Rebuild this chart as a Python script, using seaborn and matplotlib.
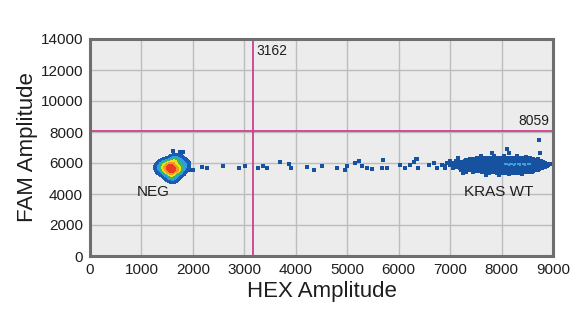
import numpy as np
import pandas as pd
import matplotlib
matplotlib.use("Agg")
import matplotlib.pyplot as plt
from matplotlib.colors import ListedColormap
import seaborn as sns

# ---------------- data ----------------
x_ticks = [0, 1000, 2000, 3000, 4000, 5000, 6000, 7000, 8000, 9000]
y_ticks = [0, 2000, 4000, 6000, 8000, 10000, 12000, 14000]
hex_threshold = 3162
fam_threshold = 8059

# NEG cluster core (density blob)
neg_x = [1590, 1530, 1650, 1570, 1610, 1480, 1710, 1550, 1630, 1430, 1760, 1510, 1680, 1590, 1380,
         1810, 1530, 1660, 1460, 1740, 1600, 1340, 1860, 1620, 1500, 1700, 1570, 1410, 1790, 1640]
neg_y = [5610, 5700, 5550, 5500, 5750, 5600, 5650, 5850, 5400, 5700, 5550, 5400, 5850, 6000, 5500,
         5700, 6050, 6150, 5950, 5300, 5200, 5750, 5900, 6300, 5250, 6250, 5050, 6000, 6100, 4950]

# NEG edge / outlier droplets
neg_out_x = [1620, 1740, 1810, 1870, 1920, 1330, 1380, 1760, 1830, 1310]
neg_out_y = [6770, 6690, 6690, 5700, 5560, 5350, 6150, 6450, 5300, 5600]

# droplets scattered between the clusters
mid_x = [2000, 2170, 2270, 2580, 2890, 3020, 3270, 3360, 3450, 3700, 3860, 3900, 4210, 4360,
         4500, 4800, 4960, 4990, 5160, 5220, 5290, 5380, 5480, 5670, 5700, 5780, 6030, 6130,
         6230, 6290, 6340, 6370, 6580, 6680, 6740, 6840, 6910, 6940]
mid_y = [5550, 5760, 5660, 5830, 5700, 5830, 5700, 5830, 5700, 6080, 5910, 5700, 5760, 5550,
         5830, 5700, 5550, 5830, 5980, 6130, 5830, 5700, 5610, 5660, 6190, 5660, 5870, 5700,
         5870, 6040, 6260, 5700, 5870, 5980, 5700, 5870, 5660, 5980]

# KRAS WT cluster droplets
kras_x = [7600, 7850, 8050, 8300, 8480,
          7380, 7520, 7700, 7820, 7960, 8110, 8250, 8400, 8560, 8700,
          7120, 7300, 7450, 7560, 7660, 7760, 7860, 7960, 8060, 8160, 8260, 8360, 8460, 8560, 8660, 8760,
          6980, 7080, 7200, 7310, 7410, 7500, 7590, 7680, 7770, 7860, 7950, 8040, 8130, 8220, 8310,
          8400, 8490, 8580, 8670, 8760, 8850,
          7000, 7150, 7250, 7350, 7440, 7530, 7620, 7710, 7800, 7890, 7980, 8070, 8160, 8250, 8340,
          8430, 8520, 8610, 8700, 8790, 8880,
          7060, 7180, 7300, 7400, 7490, 7580, 7670, 7760, 7850, 7940, 8030, 8120, 8210, 8300, 8390,
          8480, 8570, 8660, 8750, 8840,
          7220, 7380, 7480, 7580, 7680, 7780, 7870, 7960, 8050, 8140, 8230, 8320, 8410, 8500, 8600, 8700,
          7450, 7620, 7750, 7880, 8000, 8120, 8240, 8360, 8480, 8600,
          7700, 7950, 8150, 8400]
kras_y = [6430, 6470, 6420, 6460, 6410,
          6290, 6320, 6280, 6330, 6300, 6270, 6320, 6290, 6310, 6260,
          6130, 6170, 6140, 6160, 6150, 6130, 6170, 6150, 6140, 6160, 6150, 6130, 6170, 6150, 6140, 6120,
          6000, 5980, 6020, 6000, 5990, 6010, 6000, 5980, 6020, 6000, 5990, 6010, 6000, 5980, 6020,
          6000, 5990, 6010, 6000, 5980, 5990,
          5850, 5870, 5830, 5860, 5840, 5850, 5870, 5830, 5850, 5860, 5840, 5850, 5870, 5830, 5850,
          5860, 5840, 5850, 5870, 5830, 5860,
          5690, 5720, 5700, 5680, 5710, 5700, 5690, 5720, 5700, 5680, 5710, 5700, 5690, 5720, 5700,
          5680, 5710, 5700, 5690, 5730,
          5540, 5570, 5550, 5530, 5560, 5550, 5540, 5570, 5550, 5530, 5560, 5550, 5540, 5570, 5550, 5580,
          5390, 5420, 5380, 5410, 5400, 5390, 5420, 5380, 5410, 5420,
          5250, 5230, 5260, 5270]

# isolated KRAS WT droplets
kras_out_x = [8720, 8100, 8140, 7810, 8750, 6350, 7300, 7000, 6900, 7150, 7250, 8950]
kras_out_y = [7480, 6880, 6660, 6660, 6630, 6240, 5420, 6150, 5780, 6300, 5380, 5950]

# brighter streak inside KRAS WT cluster
streak_x = [8060, 8110, 8160, 8210, 8260, 8310, 8360, 8410, 8460, 8510, 8560, 8150, 8250, 8350, 8450]
streak_y = [5930, 5920, 5940, 5910, 5930, 5920, 5940, 5920, 5930, 5910, 5920, 5850, 5840, 5860, 5850]

cluster_labels = ["NEG", "KRAS WT"]
cluster_label_x = [1230, 7950]
cluster_label_y = [4150, 4150]

# ---------------- styling ----------------
sns.set_theme(style="white")
plt.rcParams["font.family"] = ["Liberation Sans", "DejaVu Sans"]

dot_blue = "#16529f"
magenta = "#cf3f8c"
txt = "#1e1e1e"

fig = plt.figure(figsize=(5.88, 3.35), dpi=100)
ax = fig.add_axes([90 / 588, 1 - 256 / 335, (553 - 90) / 588, (256 - 39) / 335])
ax.set_facecolor("#ececec")

ax.set_xlim(0, 9000)
ax.set_ylim(0, 14000)
ax.set_xticks(x_ticks)
ax.set_yticks(y_ticks)
ax.grid(True, color="#bdbdbd", linewidth=1.0)
ax.set_axisbelow(True)

# threshold lines
ax.axvline(hex_threshold, color=magenta, lw=1.3, zorder=2)
ax.axhline(fam_threshold, color=magenta, lw=1.3, zorder=2)

# KRAS WT dense core as a filled density region
df_kras = pd.DataFrame({"x": kras_x, "y": kras_y})
sns.kdeplot(data=df_kras, x="x", y="y", ax=ax, fill=True,
            cmap=ListedColormap([dot_blue]), levels=2, thresh=0.14, bw_adjust=0.6, zorder=3)

# droplets
df_mid = pd.DataFrame({"x": mid_x + neg_out_x + kras_out_x, "y": mid_y + neg_out_y + kras_out_y})
sns.scatterplot(data=df_mid, x="x", y="y", ax=ax, marker="s", s=6, color=dot_blue,
                linewidth=0, zorder=3)
sns.scatterplot(data=df_kras, x="x", y="y", ax=ax, marker="s", s=7, color=dot_blue,
                linewidth=0, zorder=3)
df_streak = pd.DataFrame({"x": streak_x, "y": streak_y})
sns.scatterplot(data=df_streak, x="x", y="y", ax=ax, marker="s", s=4, color="#3b9fe0",
                linewidth=0, zorder=4)

# NEG density blob
heat = ListedColormap(["#1a5cb3", "#2f9de0", "#35b86a", "#e8e020", "#f39a1e", "#ee3a22"])
df_neg = pd.DataFrame({"x": neg_x, "y": neg_y})
sns.kdeplot(data=df_neg, x="x", y="y", ax=ax, fill=True, cmap=heat, levels=7,
            thresh=0.04, bw_adjust=1.0, zorder=5)

# labels
ax.text(hex_threshold + 70, 13650, str(hex_threshold), fontsize=10, ha="left", va="top", color=txt)
ax.text(8930, fam_threshold + 170, str(fam_threshold), fontsize=10, ha="right", va="bottom", color=txt)
for lbl, lx, ly in zip(cluster_labels, cluster_label_x, cluster_label_y):
    ax.text(lx, ly, lbl, fontsize=11, ha="center", va="center", color=txt)

ax.set_xlabel("HEX Amplitude", fontsize=16, color=txt, labelpad=3)
ax.set_ylabel("FAM Amplitude", fontsize=16, color=txt, labelpad=2)
ax.tick_params(axis="both", length=0, pad=5, labelsize=11, labelcolor=txt)

for sp in ax.spines.values():
    sp.set_visible(True)
    sp.set_color("#6e6e6e")
    sp.set_linewidth(2.2)

fig.savefig("out.png", dpi=100, facecolor="white")
